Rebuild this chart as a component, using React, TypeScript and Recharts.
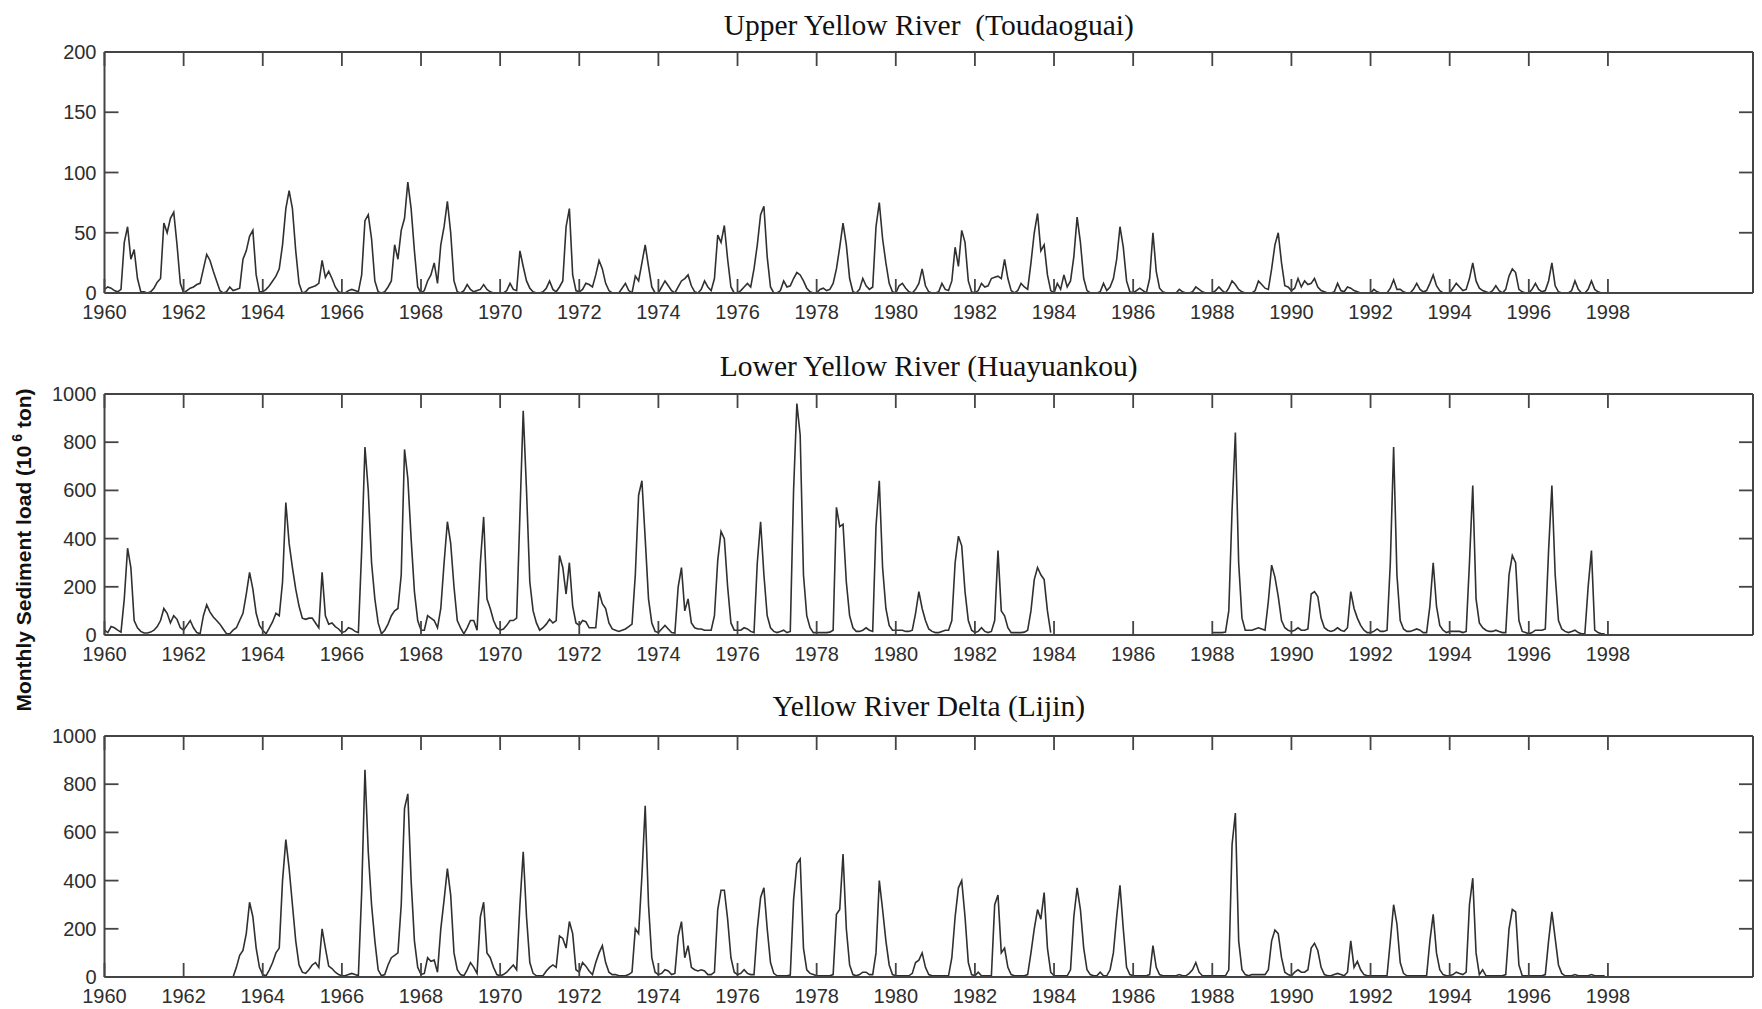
import React from 'react';
import { LineChart, Line, XAxis, YAxis } from 'recharts';

// ---------- tick definitions ----------
const yearTicks = [0, 24, 48, 72, 96, 120, 144, 168, 192, 216, 240, 264, 288, 312, 336, 360, 384, 408, 432, 456];
const yearLabels = ['1960', '1962', '1964', '1966', '1968', '1970', '1972', '1974', '1976', '1978', '1980', '1982', '1984', '1986', '1988', '1990', '1992', '1994', '1996', '1998'];
const upperTicks = [0, 50, 100, 150, 200];
const lowerTicks = [0, 200, 400, 600, 800, 1000];

const panelTitles = ['Upper Yellow River  (Toudaoguai)', 'Lower Yellow River (Huayuankou)', 'Yellow River Delta (Lijin)'];

// ---------- monthly sediment load, Jan 1960 ... Dec 1997 ----------
const toudaoguai: (number | null)[] = [
  3, 5, 4, 2, 1, 3, 42, 55, 28, 36, 12, 1, // 1960
  1, 0, 1, 4, 9, 12, 58, 50, 62, 67, 40, 8, // 1961
  0, 2, 4, 5, 7, 8, 20, 32, 27, 18, 10, 2, // 1962
  0, 1, 5, 2, 3, 4, 28, 35, 47, 52, 15, 1, // 1963
  1, 3, 6, 10, 14, 20, 40, 70, 85, 70, 35, 8, // 1964
  0, 1, 4, 5, 6, 8, 27, 13, 18, 12, 5, 1, // 1965
  0, 0, 2, 3, 2, 1, 15, 60, 65, 45, 10, 1, // 1966
  0, 1, 5, 10, 40, 28, 52, 62, 92, 70, 35, 5, // 1967
  0, 2, 10, 15, 25, 8, 40, 55, 76, 50, 10, 1, // 1968
  0, 2, 7, 3, 1, 2, 3, 7, 3, 1, 0, 0, // 1969
  0, 0, 2, 8, 3, 2, 35, 22, 10, 4, 1, 0, // 1970
  0, 1, 4, 10, 3, 1, 5, 10, 55, 70, 15, 2, // 1971
  1, 3, 8, 7, 5, 15, 27, 20, 8, 2, 0, 0, // 1972
  0, 4, 8, 2, 0, 14, 10, 25, 40, 22, 5, 0, // 1973
  0, 5, 10, 6, 2, 0, 5, 10, 12, 15, 6, 1, // 1974
  0, 3, 10, 5, 2, 12, 48, 42, 56, 28, 5, 0, // 1975
  0, 2, 5, 8, 5, 20, 40, 65, 72, 30, 5, 0, // 1976
  0, 2, 10, 5, 6, 12, 17, 15, 10, 4, 1, 0, // 1977
  0, 3, 4, 2, 3, 8, 20, 38, 58, 40, 12, 1, // 1978
  0, 3, 12, 6, 3, 5, 55, 75, 45, 25, 8, 1, // 1979
  0, 6, 8, 4, 1, 0, 3, 8, 20, 6, 1, 0, // 1980
  0, 1, 8, 3, 2, 10, 38, 22, 52, 42, 10, 1, // 1981
  0, 2, 8, 5, 6, 12, 13, 14, 12, 28, 12, 2, // 1982
  0, 2, 8, 5, 3, 25, 50, 66, 35, 40, 15, 2, // 1983
  0, 8, 3, 15, 5, 10, 30, 63, 42, 12, 2, 0, // 1984
  0, 0, 1, 8, 2, 5, 12, 28, 55, 38, 10, 1, // 1985
  0, 2, 4, 2, 0, 12, 50, 18, 4, 1, 0, 0, // 1986
  0, 0, 3, 1, 0, 0, 1, 5, 3, 1, 0, 0, // 1987
  0, 2, 5, 2, 0, 4, 10, 7, 3, 1, 0, 0, // 1988
  0, 2, 10, 7, 4, 3, 20, 40, 50, 25, 6, 5, // 1989
  2, 4, 12, 5, 10, 7, 8, 12, 5, 2, 1, 0, // 1990
  0, 1, 8, 2, 1, 5, 4, 2, 1, 0, 0, 0, // 1991
  0, 3, 1, 0, 0, 0, 4, 11, 3, 3, 1, 0, // 1992
  0, 3, 8, 3, 1, 2, 8, 15, 6, 2, 0, 0, // 1993
  0, 4, 8, 5, 2, 3, 12, 25, 10, 4, 2, 1, // 1994
  0, 2, 6, 2, 0, 3, 14, 20, 17, 3, 1, 0, // 1995
  0, 3, 8, 3, 1, 2, 10, 25, 6, 1, 0, 0, // 1996
  0, 2, 10, 3, 0, 0, 3, 10, 3, 1, 0, 0, // 1997
];

const huayuankou: (number | null)[] = [
  20, 10, 35, 30, 20, 12, 150, 360, 280, 60, 30, 15, // 1960
  8, 8, 12, 20, 35, 60, 110, 90, 50, 80, 65, 30, // 1961
  20, 40, 60, 30, 10, 5, 80, 125, 95, 75, 60, 45, // 1962
  25, 5, 5, 20, 30, 60, 90, 170, 260, 190, 90, 40, // 1963
  20, 5, 30, 55, 90, 80, 220, 550, 380, 280, 190, 120, // 1964
  70, 65, 70, 70, 50, 30, 260, 80, 45, 50, 35, 25, // 1965
  10, 15, 30, 25, 15, 10, 350, 780, 600, 300, 150, 50, // 1966
  5, 20, 45, 80, 100, 110, 250, 770, 650, 400, 180, 60, // 1967
  20, 20, 80, 70, 60, 30, 110, 300, 470, 380, 200, 60, // 1968
  30, 5, 30, 60, 60, 20, 300, 490, 150, 110, 60, 30, // 1969
  20, 25, 40, 60, 60, 70, 500, 930, 600, 220, 100, 50, // 1970
  20, 30, 45, 65, 50, 60, 330, 280, 170, 300, 120, 50, // 1971
  40, 60, 55, 30, 30, 30, 180, 130, 110, 50, 25, 20, // 1972
  15, 20, 25, 35, 45, 250, 580, 640, 400, 150, 50, 15, // 1973
  10, 25, 40, 25, 10, 8, 200, 280, 100, 150, 50, 30, // 1974
  25, 25, 20, 20, 20, 80, 310, 430, 400, 200, 50, 20, // 1975
  20, 20, 30, 25, 15, 10, 300, 470, 250, 80, 30, 15, // 1976
  10, 15, 20, 10, 15, 600, 960, 830, 250, 80, 30, 10, // 1977
  10, 10, 10, 10, 12, 20, 530, 450, 460, 220, 80, 30, // 1978
  15, 15, 20, 30, 20, 15, 450, 640, 280, 110, 40, 20, // 1979
  20, 20, 20, 15, 15, 20, 90, 180, 110, 60, 25, 15, // 1980
  10, 10, 15, 20, 20, 60, 300, 410, 370, 180, 60, 20, // 1981
  10, 15, 30, 15, 10, 15, 60, 350, 100, 80, 30, 10, // 1982
  10, 10, 10, 12, 20, 100, 230, 280, 250, 230, 100, 10, // 1983
  null, null, null, null, null, null, null, null, null, null, null, null, // 1984
  null, null, null, null, null, null, null, null, null, null, null, null, // 1985
  null, null, null, null, null, null, null, null, null, null, null, null, // 1986
  null, null, null, null, null, null, null, null, null, null, null, null, // 1987
  10, 10, 10, 10, 12, 100, 520, 840, 300, 70, 20, 20, // 1988
  20, 25, 30, 25, 20, 140, 290, 240, 160, 60, 30, 20, // 1989
  15, 20, 30, 20, 20, 25, 170, 180, 160, 70, 30, 20, // 1990
  15, 20, 30, 20, 15, 30, 180, 110, 70, 40, 20, 10, // 1991
  10, 15, 25, 15, 15, 20, 300, 780, 250, 60, 25, 15, // 1992
  15, 20, 25, 20, 10, 10, 120, 300, 120, 40, 20, 10, // 1993
  15, 15, 15, 15, 10, 15, 300, 620, 150, 50, 30, 20, // 1994
  15, 15, 20, 15, 10, 10, 250, 330, 300, 60, 15, 10, // 1995
  5, 10, 20, 20, 20, 25, 350, 620, 250, 60, 25, 15, // 1996
  10, 15, 20, 10, 5, 5, 200, 350, 20, 10, 5, 5, // 1997
];

const lijin: (number | null)[] = [
  null, null, null, null, null, null, null, null, null, null, null, null, // 1960
  null, null, null, null, null, null, null, null, null, null, null, null, // 1961
  null, null, null, null, null, null, null, null, null, null, null, null, // 1962
  null, null, null, 0, 40, 90, 110, 180, 310, 250, 120, 40, // 1963
  10, 5, 30, 60, 100, 120, 400, 570, 450, 300, 150, 50, // 1964
  20, 15, 30, 50, 60, 40, 200, 120, 45, 35, 20, 10, // 1965
  5, 5, 10, 15, 10, 5, 350, 860, 520, 300, 150, 30, // 1966
  5, 10, 50, 80, 90, 100, 300, 700, 760, 400, 150, 40, // 1967
  10, 15, 80, 65, 70, 20, 200, 320, 450, 340, 100, 30, // 1968
  10, 5, 30, 60, 40, 15, 250, 310, 100, 80, 40, 10, // 1969
  5, 10, 20, 35, 50, 30, 300, 520, 250, 60, 15, 5, // 1970
  5, 5, 25, 40, 50, 40, 170, 160, 120, 230, 180, 30, // 1971
  20, 60, 45, 25, 10, 60, 100, 130, 60, 20, 10, 10, // 1972
  5, 5, 5, 10, 20, 200, 180, 420, 710, 300, 80, 20, // 1973
  10, 15, 30, 25, 10, 15, 170, 230, 80, 130, 40, 30, // 1974
  25, 30, 25, 10, 10, 20, 280, 360, 360, 240, 80, 20, // 1975
  10, 15, 30, 15, 10, 10, 200, 330, 370, 200, 60, 15, // 1976
  5, 5, 5, 5, 8, 320, 470, 490, 120, 30, 15, 10, // 1977
  5, 5, 5, 5, 5, 10, 260, 280, 510, 200, 50, 10, // 1978
  5, 10, 20, 20, 10, 10, 100, 400, 280, 150, 50, 10, // 1979
  5, 5, 5, 5, 5, 15, 60, 70, 100, 40, 10, 5, // 1980
  5, 5, 5, 5, 5, 80, 250, 370, 400, 250, 60, 10, // 1981
  5, 20, 5, 5, 5, 5, 300, 340, 100, 120, 40, 10, // 1982
  5, 5, 5, 5, 10, 100, 200, 280, 240, 350, 120, 20, // 1983
  5, 5, 5, 5, 5, 30, 250, 370, 280, 120, 30, 10, // 1984
  5, 5, 20, 5, 5, 30, 100, 250, 380, 200, 40, 10, // 1985
  5, 5, 5, 5, 5, 10, 130, 40, 10, 5, 5, 5, // 1986
  5, 5, 10, 5, 5, 15, 30, 60, 20, 5, 5, 5, // 1987
  5, 5, 5, 5, 5, 30, 550, 680, 150, 30, 10, 5, // 1988
  10, 10, 10, 10, 10, 30, 150, 195, 180, 80, 20, 10, // 1989
  5, 20, 30, 20, 20, 30, 120, 140, 110, 40, 10, 5, // 1990
  5, 10, 15, 10, 5, 20, 150, 40, 65, 30, 10, 5, // 1991
  5, 5, 5, 5, 5, 5, 150, 300, 220, 60, 15, 5, // 1992
  5, 5, 5, 5, 5, 5, 150, 260, 100, 30, 10, 5, // 1993
  5, 10, 20, 15, 10, 20, 300, 410, 100, 10, 30, 5, // 1994
  5, 5, 5, 5, 5, 10, 200, 280, 270, 50, 5, 5, // 1995
  5, 5, 5, 5, 5, 10, 150, 270, 160, 50, 15, 5, // 1996
  5, 5, 10, 5, 5, 5, 5, 10, 5, 5, 5, 5, // 1997
];

const toData = (vals: (number | null)[]) => vals.map((v, i) => ({ m: i, v }));

// ---------- styling ----------
const FRAME = '#444444';
const LINE = '#303030';
const TEXT = '#2e2e2e';
const TICK_LEN = 14;
const SANS = '"Liberation Sans", Arial, sans-serif';
const SERIF = '"Liberation Serif", "Times New Roman", serif';

const BottomTick = (props: any) => {
  const { x, y, payload } = props;
  const idx = yearTicks.indexOf(payload.value);
  return (
    <g>
      <line x1={x} y1={y} x2={x} y2={y - TICK_LEN} stroke={FRAME} strokeWidth={1.8} />
      <text x={x} y={y + 26} textAnchor="middle" fontFamily={SANS} fontSize={20} fill={TEXT}>
        {idx >= 0 ? yearLabels[idx] : ''}
      </text>
    </g>
  );
};

const TopTick = (props: any) => {
  const { x, y } = props;
  return <line x1={x} y1={y} x2={x} y2={y + TICK_LEN} stroke={FRAME} strokeWidth={1.8} />;
};

const LeftTick = (props: any) => {
  const { x, y, payload } = props;
  return (
    <g>
      <line x1={x} y1={y} x2={x + TICK_LEN} y2={y} stroke={FRAME} strokeWidth={1.8} />
      <text x={x - 8} y={y + 7} textAnchor="end" fontFamily={SANS} fontSize={20} fill={TEXT}>
        {payload.value}
      </text>
    </g>
  );
};

const RightTick = (props: any) => {
  const { x, y } = props;
  return <line x1={x} y1={y} x2={x - TICK_LEN} y2={y} stroke={FRAME} strokeWidth={1.8} />;
};

const axisLineStyle = { stroke: FRAME, strokeWidth: 2 };

function Panel({ top, values, yMax, yTicks }: { top: number; values: (number | null)[]; yMax: number; yTicks: number[] }) {
  const data = toData(values);
  return (
    <div style={{ position: 'absolute', left: 0, top }}>
      <LineChart width={1762} height={281} data={data} margin={{ top: 9, right: 8, bottom: 0, left: 44.5 }}>
        <XAxis
          dataKey="m"
          type="number"
          domain={[0, 500]}
          ticks={yearTicks}
          interval={0}
          tickSize={0}
          tickMargin={0}
          height={30}
          tickLine={false}
          axisLine={axisLineStyle}
          tick={<BottomTick />}
          allowDataOverflow
        />
        <XAxis
          xAxisId="top"
          orientation="top"
          dataKey="m"
          type="number"
          domain={[0, 500]}
          ticks={yearTicks}
          interval={0}
          tickSize={0}
          tickMargin={0}
          height={1}
          tickLine={false}
          axisLine={axisLineStyle}
          tick={<TopTick />}
          allowDataOverflow
        />
        <YAxis
          type="number"
          domain={[0, yMax]}
          ticks={yTicks}
          interval={0}
          tickSize={0}
          tickMargin={0}
          width={60}
          tickLine={false}
          axisLine={axisLineStyle}
          tick={<LeftTick />}
          allowDataOverflow
        />
        <YAxis
          yAxisId="right"
          orientation="right"
          type="number"
          domain={[0, yMax]}
          ticks={yTicks}
          interval={0}
          tickSize={0}
          tickMargin={0}
          width={1}
          tickLine={false}
          axisLine={axisLineStyle}
          tick={<RightTick />}
          allowDataOverflow
        />
        <Line
          xAxisId="top"
          yAxisId="right"
          dataKey="v"
          type="linear"
          stroke="none"
          strokeWidth={0}
          dot={false}
          activeDot={false}
          legendType="none"
          isAnimationActive={false}
        />
        <Line
          dataKey="v"
          type="linear"
          stroke={LINE}
          strokeWidth={1.6}
          dot={false}
          activeDot={false}
          connectNulls={false}
          isAnimationActive={false}
        />
      </LineChart>
    </div>
  );
}

function Title({ text, centerY }: { text: string; centerY: number }) {
  return (
    <div
      style={{
        position: 'absolute',
        left: 104.5,
        width: 1648.5,
        top: centerY - 17,
        height: 34,
        lineHeight: '34px',
        textAlign: 'center',
        fontFamily: SERIF,
        fontSize: 29.5,
        color: '#111',
        whiteSpace: 'pre',
      }}
    >
      {text}
    </div>
  );
}

export default function App() {
  return (
    <div style={{ position: 'absolute', left: 0, top: 0, width: 1762, height: 1009, overflow: 'hidden', background: '#fff' }}>
      <Title text={panelTitles[0]} centerY={25} />
      <Title text={panelTitles[1]} centerY={366} />
      <Title text={panelTitles[2]} centerY={706} />
      <Panel top={42} values={toudaoguai} yMax={200} yTicks={upperTicks} />
      <Panel top={384} values={huayuankou} yMax={1000} yTicks={lowerTicks} />
      <Panel top={726} values={lijin} yMax={1000} yTicks={lowerTicks} />
      <svg style={{ position: 'absolute', left: 0, top: 350 }} width={52} height={400}>
        <text
          transform="translate(31,200) rotate(-90)"
          textAnchor="middle"
          fontFamily={SANS}
          fontWeight="bold"
          fontSize={21}
          fill="#111"
        >
          Monthly Sediment load (10
          <tspan fontSize={14} dy={-9}> 6</tspan>
          <tspan dy={9}> ton)</tspan>
        </text>
      </svg>
    </div>
  );
}
